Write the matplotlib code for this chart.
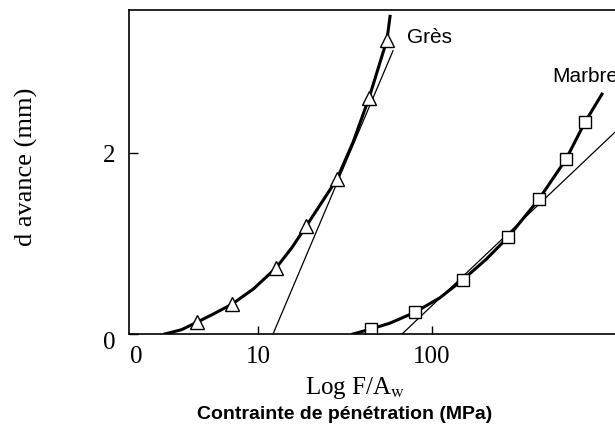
import matplotlib.pyplot as plt
import matplotlib.transforms as mtransforms

plt.rcParams['mathtext.fontset'] = 'stix'

# Grès (sandstone): measured points, drawn curve and tangent line
gres_x = [4.46, 7.09, 12.7, 18.9, 28.4, 43.5, 55.1]
gres_y = [0.13, 0.33, 0.73, 1.19, 1.71, 2.61, 3.25]
gres_curve_x = [2.92, 3.64, 4.46, 5.53, 7.09, 9.40, 12.7, 15.6, 18.9, 28.4, 35.2, 43.5, 55.1, 57.4]
gres_curve_y = [0.0, 0.048, 0.13, 0.22, 0.33, 0.497, 0.73, 0.95, 1.19, 1.71, 2.12, 2.61, 3.25, 3.51]
gres_tan_x = [12.2, 59.7]
gres_tan_y = [0.0, 3.13]

# Marbre (marble)
marbre_x = [44.6, 79.8, 150.7, 273.5, 412, 589, 757]
marbre_y = [0.055, 0.24, 0.60, 1.07, 1.49, 1.93, 2.34]
marbre_curve_x = [35.2, 44.6, 57.4, 79.8, 111, 150.7, 206, 273.5, 412, 589, 757, 948]
marbre_curve_y = [0.0, 0.055, 0.12, 0.24, 0.40, 0.60, 0.83, 1.07, 1.49, 1.93, 2.34, 2.65]
marbre_tan_x = [67.3, 1127]
marbre_tan_y = [0.0, 2.23]

xticks = [2, 10, 100]
xtick_labels = ['0', '10', '100']
yticks = [0, 2]

fig = plt.figure(figsize=(6.15, 4.27), dpi=100)
ax = fig.add_axes([0.2098, 0.2155, 0.7902, 0.7587])

ax.plot(gres_curve_x, gres_curve_y, color='black', lw=2.2, solid_joinstyle='round')
ax.plot(gres_tan_x, gres_tan_y, color='black', lw=0.9)
ax.plot(gres_x, gres_y, ls='none', marker='^', ms=9.5, mfc='white', mec='black', mew=1.0)

ax.plot(marbre_curve_x, marbre_curve_y, color='black', lw=2.2, solid_joinstyle='round')
ax.plot(marbre_tan_x, marbre_tan_y, color='black', lw=0.9)
ax.plot(marbre_x, marbre_y, ls='none', marker='s', ms=8.5, mfc='white', mec='black', mew=1.0)

ax.set_xscale('log')
ax.set_xlim(1.814, 1127)
ax.set_ylim(0, 3.58)
ax.minorticks_off()
ax.set_xticks(xticks)
ax.set_xticklabels(xtick_labels, family='Liberation Serif', fontsize=18)
ax.set_yticks(yticks)
ax.set_yticklabels([str(v) for v in yticks], family='Liberation Serif', fontsize=18)
ax.tick_params(axis='x', direction='in', length=6, width=1, pad=8)
ax.tick_params(axis='y', direction='in', length=6.5, width=1, pad=10)
ax.xaxis.get_major_ticks()[0].tick1line.set_visible(False)

# the "0" on the y axis sits a little below the axis line in the original
ylab0 = ax.get_yticklabels()[0]
ylab0.set_transform(ylab0.get_transform() +
                    mtransforms.ScaledTranslation(0, -6 / 100, fig.dpi_scale_trans))

ax.spines['right'].set_visible(False)
for s in ['left', 'top', 'bottom']:
    ax.spines[s].set_linewidth(1.2)

ax.text(71.8, 3.29, 'Grès', family='Liberation Sans', fontsize=15, va='center', ha='left')
ax.text(490, 2.86, 'Marbre', family='Liberation Sans', fontsize=15, va='center', ha='left')

fig.text(26 / 615, 1 - 167 / 427, 'd avance (mm)', rotation=90, family='Liberation Serif',
         fontsize=19, ha='center', va='center')
fig.text(355 / 615, 1 - 388 / 427, r'Log F/A$_\mathrm{w}$', family='Liberation Serif',
         fontsize=18, ha='center', va='center')
fig.text(345 / 615, 1 - 415 / 427, 'Contrainte de pénétration (MPa)',
         family=['Liberation Sans Narrow', 'Liberation Sans'], weight='bold',
         fontsize=14, ha='center', va='center')

fig.savefig('out.png', dpi=100)
